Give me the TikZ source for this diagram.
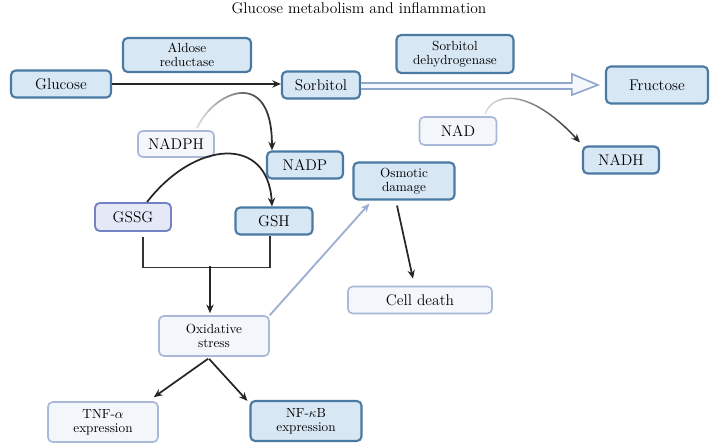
\documentclass[tikz,border=0pt]{standalone}
\usetikzlibrary{arrows.meta,calc,fadings}
\definecolor{bfill}{HTML}{D8E7F4}
\definecolor{bdraw}{HTML}{4A79A3}
\definecolor{lfill}{HTML}{F3F6FB}
\definecolor{ldraw}{HTML}{A9B8D8}
\definecolor{gfill}{HTML}{E5E9F7}
\definecolor{gdraw}{HTML}{7282C2}
\definecolor{harrow}{HTML}{8FA6CB}
\definecolor{hfill}{HTML}{F4F7FB}
\definecolor{osarrow}{HTML}{9DB0D4}
\tikzfading[name=fadestart, left color=transparent!85, middle color=transparent!0, right color=transparent!0]
\tikzset{
  sz/.style 2 args={minimum width=#1*0.75pt, minimum height=#2*0.75pt},
  box/.style={rounded corners=3.5pt, inner sep=0pt, align=center, font=\fontsize{11.6}{13}\selectfont},
  small/.style={font=\fontsize{9.9}{10.5}\selectfont},
  bluebox/.style={box, draw=bdraw, fill=bfill, line width=1.6pt},
  lightbox/.style={box, draw=ldraw, fill=lfill, line width=1.2pt},
  gssgbox/.style={box, draw=gdraw, fill=gfill, line width=1.4pt},
  arr/.style={line width=1.3pt, draw=black!85, -{Stealth[length=6.5pt,width=5.5pt]}},
  plain/.style={line width=1.3pt, draw=black!80},
  lightarr/.style={line width=1.4pt, draw=osarrow, -{Stealth[length=6.5pt,width=5.5pt]}},
}
\begin{document}
\begin{tikzpicture}[x=0.75pt,y=-0.75pt]
\useasboundingbox (0,0) rectangle (719,448);
\node[font=\fontsize{11.6}{13}\selectfont] (title) at (359,8) {Glucose metabolism and inflammation};
\node[bluebox,small,sz={128}{34}] (aldose) at (187,55) {Aldose\\reductase};
\node[bluebox,sz={100}{27}] (glucose) at (61,84) {Glucose};
\node[bluebox,sz={78}{27}] (sorb) at (321,85) {Sorbitol};
\node[bluebox,small,sz={117}{38}] (sdh) at (455,54) {Sorbitol\\dehydrogenase};
\node[bluebox,sz={102}{37}] (fruc) at (657,85) {Fructose};
\node[lightbox,sz={76}{26}] (nadph) at (176,144) {NADPH};
\node[bluebox,sz={76}{27}] (nadp) at (305,165) {NADP};
\node[lightbox,sz={77}{28}] (nad) at (458,131) {NAD};
\node[bluebox,sz={76}{27}] (nadh) at (621,160) {NADH};
\node[bluebox,small,sz={101}{37}] (osm) at (404,181) {Osmotic\\damage};
\node[gssgbox,sz={76}{28}] (gssg) at (133,217) {GSSG};
\node[bluebox,sz={77}{27}] (gsh) at (274,221) {GSH};
\node[lightbox,small,sz={110}{40}] (ox) at (214,336) {Oxidative\\stress};
\node[lightbox,sz={144}{27}] (cell) at (420,300) {Cell death};
\node[lightbox,small,sz={110}{40}] (tnf) at (103,422) {TNF-$\alpha$\\expression};
\node[bluebox,small,sz={111}{40}] (nfkb) at (306,421) {NF-$\kappa$B\\expression};
% glucose -> sorbitol
\draw[arr] (glucose.east) -- (glucose.east -| sorb.west);
% hollow arrow sorbitol -> fructose
\coordinate (hs) at ($(sorb.east)+(0,1)$);
\coordinate (ht) at ($(fruc.west)+(-7,0)$);
\draw[harrow, line width=1.2pt, fill=hfill, line join=miter]
  ($(hs)+(0,-3)$) -- ($(ht)+(-26,-2)$) -- ($(ht)+(-26,-11)$) -- (ht)
  -- ($(ht)+(-26,10)$) -- ($(ht)+(-26,4)$) -- ($(hs)+(0,3)$);
% NADPH -> NADP
\draw[arr, path fading=fadestart] ($(nadph.north)+(21,-2)$) .. controls (213,92) and (272,65) .. ($(nadp.north west)+(6,0)$);
% NAD -> NADH
\draw[arr, line width=1.1pt, path fading=fadestart] ($(nad.north)+(27,-2)$) .. controls (492,93) and (528,86) .. ($(nadh.north west)+(-2,-3)$);
% GSSG -> GSH
\draw[arr] ($(gssg.north)+(14,0)$) .. controls (195,140) and (268,135) .. ($(gsh.north)+(-2,0)$);
% bracket
\coordinate (bl) at ($(gssg.south)+(10,5)$);
\coordinate (br) at ($(gsh.south)+(-4,32)$);
\draw[plain] (bl) |- (br) -- ($(gsh.south)+(-4,0)$);
\coordinate (mid) at (210,266.5);
\draw[arr] (mid) -- ($(mid |- ox.north)+(0,-2)$);
% oxidative -> osmotic
\draw[lightarr] (ox.north east) -- ($(osm.south west)+(17,3)$);
% osmotic -> cell death
\draw[arr] ($(osm.south)+(-7,5)$) -- ($(cell.north)+(-7,-7)$);
% oxidative -> TNF, NF-kB
\draw[arr] ($(ox.south)+(-6,2)$) -- ($(tnf.north east)+(-5,-4)$);
\draw[arr] ($(ox.south)+(-5,2)$) -- ($(nfkb.north west)+(-2,1)$);
\end{tikzpicture}
\end{document}
